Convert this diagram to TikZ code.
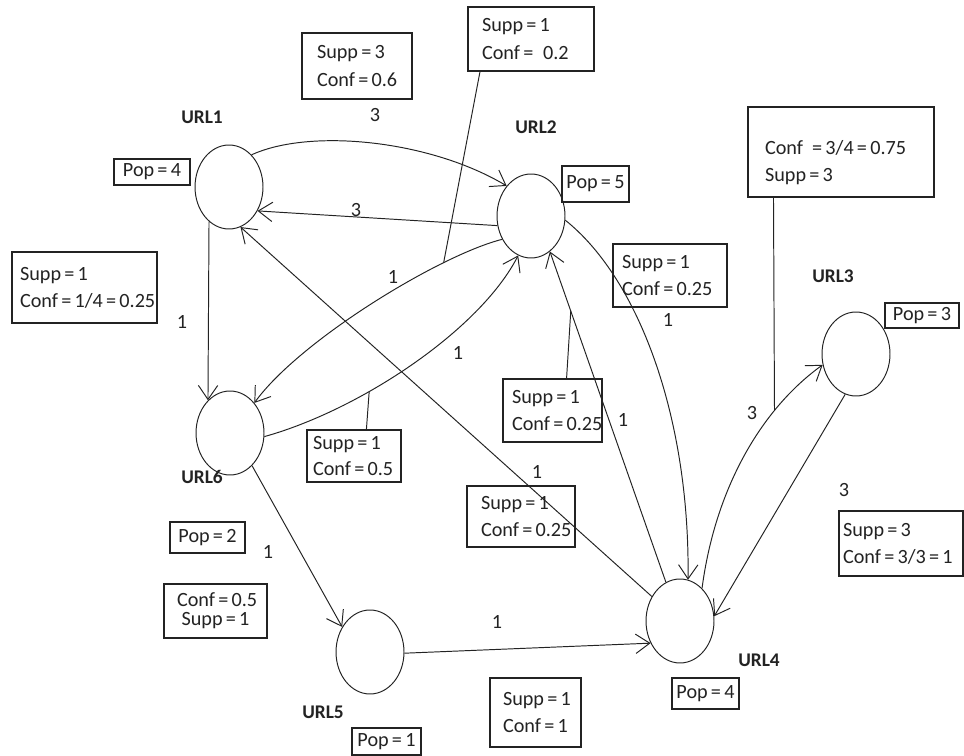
\documentclass[tikz,border=0pt]{standalone}
\usepackage{fontspec}
\setmainfont{Carlito}
\usetikzlibrary{shapes.geometric,arrows.meta,calc}
\definecolor{ink}{RGB}{35,35,35}
\newcommand{\sgap}{\kern0.16em}
\begin{document}
\begin{tikzpicture}[x=0.02cm,y=-0.02cm,
  urlnode/.style={draw=ink,ellipse,minimum width=1.36cm,minimum height=1.68cm,inner sep=0pt,line width=0.55pt},
  edge/.style={draw=ink,line width=0.55pt,-{Straight Barb[length=8pt,width=11pt,line width=0.55pt]}},
  callout/.style={draw=ink,line width=0.55pt},
  infobox/.style={draw=ink,line width=0.9pt,text=ink,font=\fontsize{11.5}{15.5}\selectfont,align=left,inner ysep=0pt},
  popbox/.style={draw=ink,line width=0.9pt,text=ink,font=\fontsize{11.5}{14}\selectfont,inner sep=0pt},
  urllabel/.style={text=ink,font=\fontsize{11}{13}\selectfont\bfseries,inner sep=1pt},
  wt/.style={text=ink,font=\fontsize{11.5}{14}\selectfont,inner sep=1pt}]
\useasboundingbox[fill=white] (0,0) rectangle (964,756);

% URL nodes
\node[urlnode] (u1) at (229,187) {};
\node[urlnode] (u2) at (531,216) {};
\node[urlnode] (u3) at (856,354) {};
\node[urlnode] (u4) at (680,621) {};
\node[urlnode] (u5) at (370,652) {};
\node[urlnode] (u6) at (230,433) {};

% URL labels
\node[urllabel] (t1) at (202,117) {URL1};
\node[urllabel] (t2) at (536,127) {URL2};
\node[urllabel] (t3) at (833,276) {URL3};
\node[urllabel] (t4) at (759,660) {URL4};
\node[urllabel] (t5) at (323,712) {URL5};
\node[urllabel] (t6) at (202,477) {URL6};

% Pop boxes
\node[popbox,minimum width=1.52cm,minimum height=0.52cm] (p1) at (152,172) {Pop\sgap=\sgap4};
\node[popbox,minimum width=1.34cm,minimum height=0.72cm] (p2) at (595.5,184) {Pop\sgap=\sgap5};
\node[popbox,minimum width=1.48cm,minimum height=0.50cm] (p3) at (922,315.5) {Pop\sgap=\sgap3};
\node[popbox,minimum width=1.34cm,minimum height=0.62cm] (p4) at (705.5,693.5) {Pop\sgap=\sgap4};
\node[popbox,minimum width=1.38cm,minimum height=0.54cm] (p5) at (386.5,741.5) {Pop\sgap=\sgap1};
\node[popbox,minimum width=1.50cm,minimum height=0.62cm] (p6) at (207.5,537.5) {Pop\sgap=\sgap2};

% Info boxes
\node[infobox,text width=1.6cm,inner xsep=0.3cm,minimum height=1.32cm] (b1) at (357,66) {Supp\sgap=\sgap3\\Conf\sgap=\sgap0.6};
\node[infobox,text width=1.96cm,inner xsep=0.28cm,minimum height=1.28cm] (b2) at (531,39) {Supp\sgap=\sgap1\\Conf\sgap=\sgap\sgap\sgap0.2};
\node[infobox,text width=3.04cm,inner xsep=0.34cm,minimum height=1.8cm] (b3) at (841,152) {\rule{0pt}{20pt}Conf\kern0.45em=\sgap3/4\sgap=\sgap0.75\\Supp\sgap=\sgap3};
\node[infobox,text width=2.58cm,inner xsep=0.16cm,minimum height=1.42cm] (b4) at (84.5,287.5) {Supp\sgap=\sgap1\\Conf\sgap=\sgap1/4\sgap=\sgap0.25};
\node[infobox,text width=1.92cm,inner xsep=0.18cm,minimum height=1.26cm] (b5) at (670,275.5) {Supp\sgap=\sgap1\\Conf\sgap=\sgap0.25};
\node[infobox,text width=1.62cm,inner xsep=0.18cm,minimum height=1.26cm] (b6) at (552.5,410.5) {Supp\sgap=\sgap1\\Conf\sgap=\sgap0.25};
\node[infobox,text width=1.64cm,inner xsep=0.12cm,minimum height=1.04cm] (b7) at (354,456) {Supp\sgap=\sgap1\\[-1pt]Conf\sgap=\sgap0.5};
\node[infobox,text width=1.6cm,inner xsep=0.28cm,minimum height=1.22cm] (b8) at (521,516.5) {Supp\sgap=\sgap1\\Conf\sgap=\sgap0.25};
\node[infobox,align=center,text width=1.54cm,inner xsep=0.26cm,minimum height=1.08cm] (b9) at (215.5,611) {Conf\sgap=\sgap0.5\\[-4.5pt]Supp\sgap=\sgap1};
\node[infobox,text width=1.3cm,inner xsep=0.26cm,minimum height=1.38cm] (b10) at (535.5,712.5) {Supp\sgap=\sgap1\\Conf\sgap=\sgap1};
\node[infobox,text width=2.32cm,inner xsep=0.08cm,minimum height=1.3cm] (b11) at (901,543.5) {Supp\sgap=\sgap3\\Conf\sgap=\sgap3/3\sgap=\sgap1};

% Edges
\draw[edge] (u1.55) .. controls (310,128) and (430,140) .. (u2.129);
\draw[edge] (u2.196) -- (u1.-40);
\draw[edge] (u2.219) .. controls (440,255) and (300,340) .. (u6.51) coordinate[pos=0.25] (k1);
\draw[edge] (u6.-6) .. controls (360,410) and (480,330) .. (u2.252) coordinate[pos=0.35] (k2);
\draw[edge] (u1.-120) -- (u6.124);
\draw[edge] (u4.139) -- (u1.-74);
\draw[edge] (u6.-56) -- (u5.138);
\draw[edge] (u5.-2) -- (u4.217);
\draw[edge] (u2.-7) .. controls (640,280) and (690,420) .. (u4.79);
\draw[edge] (u4.110) -- (u2.-62) coordinate[pos=0.82] (k3);
\draw[edge] (u4.56) .. controls (715,490) and (760,410) .. (u3.198) coordinate[pos=0.72] (k4);
\draw[edge] (u3.255) -- (u4.8);

% Callout lines
\draw[callout] ($(b2.south west)!0.1!(b2.south east)$) -- (k1);
\draw[callout] ($(b3.south west)!0.14!(b3.south east)$) -- (k4);
\draw[callout] ($(b7.north west)!0.63!(b7.north east)$) -- (k2);
\draw[callout] ($(b6.north west)!0.64!(b6.north east)$) -- (k3);

% Edge weights
\node[wt] (w1) at (375,115) {3};
\node[wt] (w2) at (356,210) {3};
\node[wt] (w3) at (393,277) {1};
\node[wt] (w4) at (182,322) {1};
\node[wt] (w5) at (458,353) {1};
\node[wt] (w6) at (668,320) {1};
\node[wt] (w7) at (623,420) {1};
\node[wt] (w8) at (537,472) {1};
\node[wt] (w9) at (752,413) {3};
\node[wt] (w10) at (844,490) {3};
\node[wt] (w11) at (268,552) {1};
\node[wt] (w12) at (497,622) {1};
\end{tikzpicture}
\end{document}
